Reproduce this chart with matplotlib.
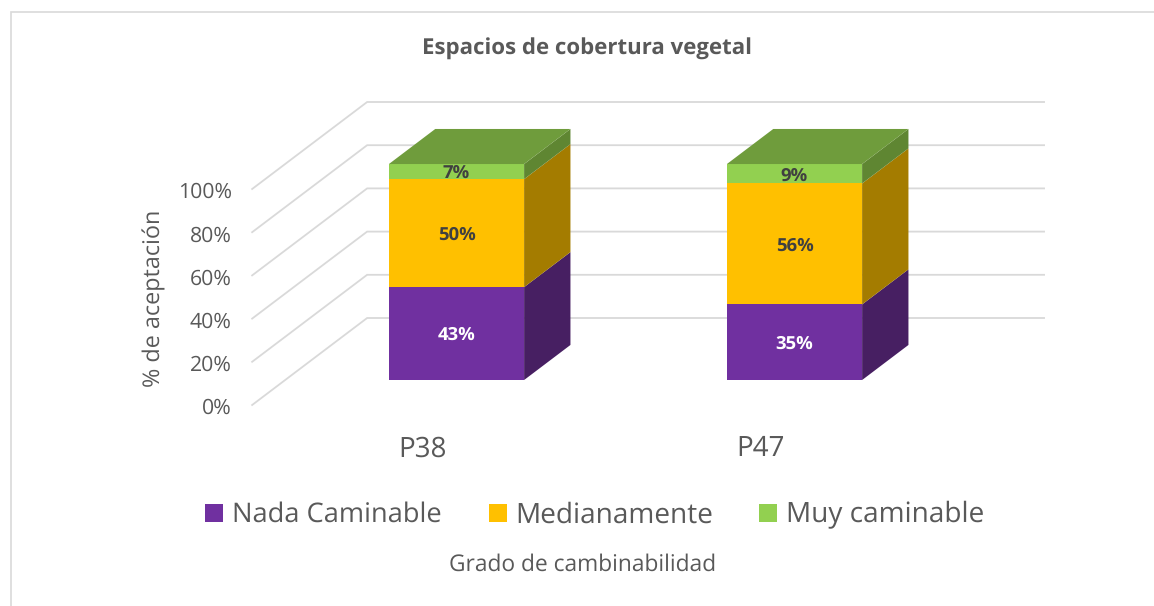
import matplotlib
matplotlib.use('Agg')
import matplotlib.pyplot as plt
from matplotlib.patches import Polygon, Rectangle

categories = ['P38', 'P47']
series = ['Nada Caminable', 'Medianamente', 'Muy caminable']
nada = [43, 35]
medio = [50, 56]
muy = [7, 9]
values = [nada, medio, muy]
yticks = [0, 20, 40, 60, 80, 100]

front = ['#7030A0', '#FFC000', '#92D050']
side = ['#471F62', '#A47C00', '#5F8632']
top = '#6F9C3C'
grid = '#D9D9D9'
text_col = '#595959'
label_col = ['white', '#404040', '#404040']

plt.rcParams['font.family'] = ['Open Sans', 'DejaVu Sans']
plt.rcParams['text.hinting'] = 'no_hinting'

W, H = 1154, 606
px_x = 338.0   # pixeles por categoria
px_y = 2.16    # pixeles por punto porcentual
x0, y0 = 423.5, 405.0
depth_x = 115 / px_x
depth_y = 87 / px_y


def proj(c, v, d):
    return c + d * depth_x, v + d * depth_y


fig = plt.figure(figsize=(W / 100, H / 100), dpi=100)
ax = fig.add_axes([0, 0, 1, 1])
ax.set_xlim(-x0 / px_x, (W - x0) / px_x)
ax.set_ylim((y0 - H) / px_y, y0 / px_y)
ax.axis('off')

# marco del grafico: solo izquierda y arriba
ax.plot([11.5 / W, 11.5 / W, 1], [0, 1 - 12 / H, 1 - 12 / H], transform=ax.transAxes,
        color=grid, lw=1.2, solid_joinstyle='miter')

# rejilla
wall_left = -0.507
wall_right = 1.836
for v in yticks:
    xa, ya = proj(wall_left, v, 0)
    xb, yb = proj(wall_left, v, 1)
    ax.plot([xa, xb, wall_right], [ya, yb, yb], color=grid, lw=1.3, zorder=1,
            solid_joinstyle='miter')
    ax.text(xa - 0.06, ya - 1.7, f'{v}%', ha='right', va='center', fontsize=15.3, color=text_col)

# barras
hw = 0.2
d0, d1 = 0.287, 0.69
for i, cat in enumerate(categories):
    base = 0
    for s in range(3):
        v = values[s][i]
        a = proj(i - hw, base, d0)
        b = proj(i + hw, base, d0)
        c = proj(i + hw, base + v, d0)
        e = proj(i - hw, base + v, d0)
        ax.add_patch(Polygon([a, b, c, e], fc=front[s], ec='none', zorder=3))
        ax.add_patch(Polygon([b, proj(i + hw, base, d1), proj(i + hw, base + v, d1), c],
                             fc=side[s], ec='none', zorder=3))
        mx, my = proj(i, base + v / 2, d0)
        ax.text(mx, my - 0.9, f'{v}%', ha='center', va='center', fontsize=13.3, fontweight='bold',
                color=label_col[s], zorder=5)
        base += v
    ax.add_patch(Polygon([proj(i - hw, base, d0), proj(i + hw, base, d0),
                          proj(i + hw, base, d1), proj(i - hw, base, d1)],
                         fc=top, ec='none', zorder=3))
    ax.text(i - 0.003, (y0 - 449) / px_y, cat, ha='center', va='center', fontsize=20, color=text_col)

ax.text(587 / W, 1 - 49.5 / H, 'Espacios de cobertura vegetal', transform=ax.transAxes,
        ha='center', va='center', fontsize=16, fontweight='bold', color=text_col)
ax.text(154.5 / W, 1 - 298.5 / H, '% de aceptación', transform=ax.transAxes, rotation=90,
        ha='center', va='center', fontsize=16.8, color=text_col)
ax.text(582.5 / W, 1 - 565 / H, 'Grado de cambinabilidad', transform=ax.transAxes,
        ha='center', va='center', fontsize=16.4, color=text_col)

# leyenda
leg_x = [205, 489, 759]
leg_size = [19.6, 20.2, 20.2]
for name, col, lx, fs in zip(series, front, leg_x, leg_size):
    ax.add_patch(Rectangle((lx / W, 1 - 522 / H), 18 / W, 18 / H, transform=ax.transAxes,
                           fc=col, ec='none'))
    ax.text((lx + 26.5) / W, 1 - 515 / H, name, transform=ax.transAxes, ha='left', va='center',
            fontsize=fs, color=text_col)

fig.savefig('out.png', dpi=100)
